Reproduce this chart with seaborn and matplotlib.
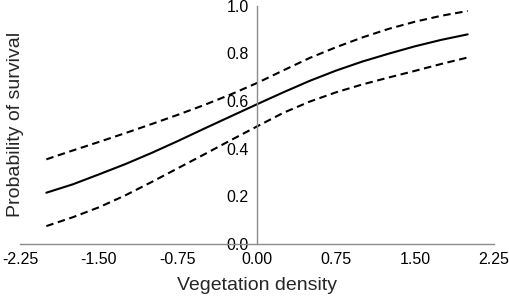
import numpy as np
import pandas as pd
import matplotlib
matplotlib.use('Agg')
import matplotlib.pyplot as plt
import seaborn as sns
from matplotlib.ticker import FormatStrFormatter

# values
density = [-2.0, -1.75, -1.5, -1.25, -1.0, -0.75, -0.5, -0.25, 0.0,
           0.25, 0.5, 0.75, 1.0, 1.25, 1.5, 1.75, 2.0]
survival_mean = [0.215, 0.25, 0.292, 0.335, 0.382, 0.432, 0.484, 0.535, 0.586,
                 0.636, 0.684, 0.727, 0.765, 0.798, 0.829, 0.856, 0.879]
survival_upper = [0.355, 0.392, 0.428, 0.465, 0.503, 0.542, 0.583, 0.627, 0.675,
                  0.728, 0.78, 0.825, 0.866, 0.902, 0.932, 0.957, 0.977]
survival_lower = [0.075, 0.112, 0.154, 0.204, 0.26, 0.318, 0.376, 0.435, 0.493,
                  0.55, 0.597, 0.636, 0.669, 0.698, 0.726, 0.755, 0.782]
x_ticks = [-2.25, -1.50, -0.75, 0.00, 0.75, 1.50, 2.25]
y_ticks = [0.0, 0.2, 0.4, 0.6, 0.8, 1.0]

df = pd.concat([
    pd.DataFrame({'density': density, 'survival': survival_mean, 'series': 'mean'}),
    pd.DataFrame({'density': density, 'survival': survival_upper, 'series': 'upper'}),
    pd.DataFrame({'density': density, 'survival': survival_lower, 'series': 'lower'}),
])

sns.set_style('white')
plt.rcParams['font.family'] = ['Liberation Sans', 'DejaVu Sans']

fig = plt.figure(figsize=(5.1, 2.98), dpi=100)
ax = fig.add_axes([20 / 510, 54 / 298, 474 / 510, 238.5 / 298])

sns.lineplot(
    data=df,
    x='density',
    y='survival',
    hue='series',
    style='series',
    palette={'mean': 'black', 'upper': 'black', 'lower': 'black'},
    dashes={'mean': '', 'upper': (3.6, 2.2), 'lower': (3.6, 2.2)},
    linewidth=1.5,
    legend=False,
    ax=ax,
)

ax.set_xlim(-2.25, 2.25)
ax.set_ylim(0, 1.0)
ax.set_xticks(x_ticks)
ax.set_yticks(y_ticks)
ax.xaxis.set_major_formatter(FormatStrFormatter('%.2f'))
ax.yaxis.set_major_formatter(FormatStrFormatter('%.1f'))

for side in ['top', 'right']:
    ax.spines[side].set_visible(False)
ax.spines['left'].set_position(('data', 0))
for side in ['left', 'bottom']:
    ax.spines[side].set_color('#8c8c8c')
    ax.spines[side].set_linewidth(1.0)

ax.tick_params(axis='both', direction='in', length=3, width=1, color='#8c8c8c',
               labelsize=11.5, labelcolor='black')
ax.tick_params(axis='x', pad=6)
ax.tick_params(axis='y', pad=6)

ax.set_xlabel('Vegetation density', fontsize=14)
ax.set_ylabel('Probability of survival', fontsize=14)
ax.xaxis.set_label_coords(0.5, -0.14)
ax.yaxis.set_label_coords(0.008, 0.5)

fig.savefig('out.png', dpi=100)
